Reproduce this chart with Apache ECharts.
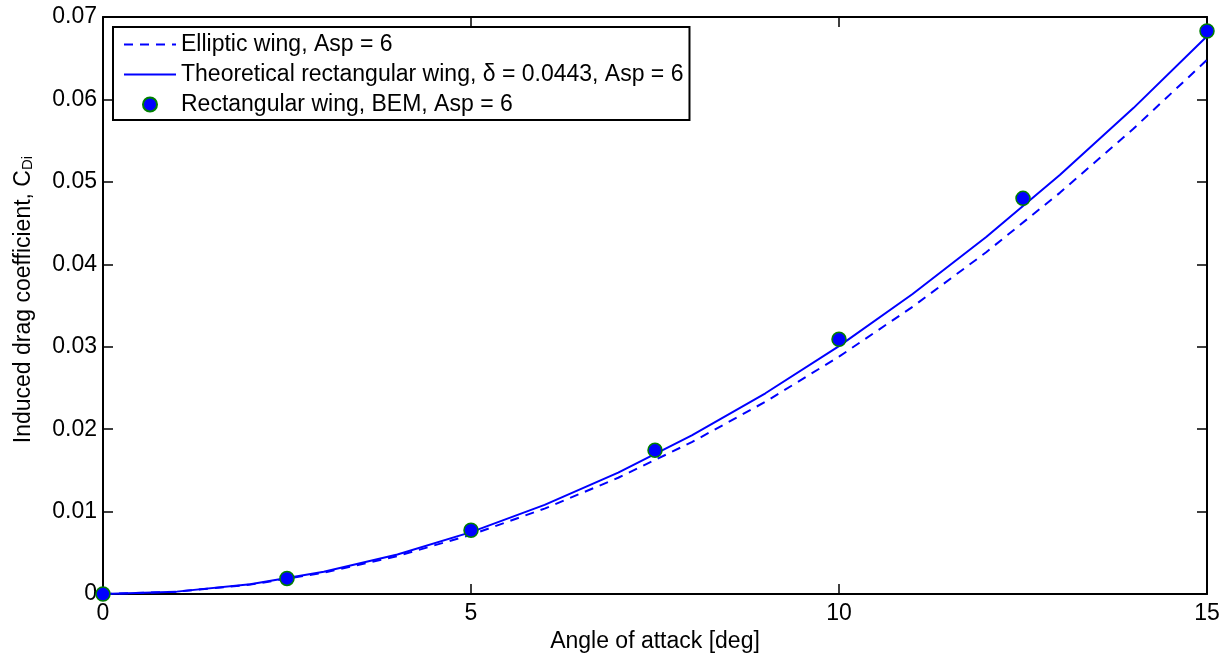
<!DOCTYPE html>
<html><head><meta charset="utf-8">
<script src="https://cdn.jsdelivr.net/npm/echarts@6/dist/echarts.min.js"></script>
<style>html,body{margin:0;padding:0;background:#fff}#c{width:1231px;height:658px}</style>
</head><body><div id="c"></div>
<script>
const alphaDeg = [0,1,2,3,4,5,6,7,8,9,10,11,12,13,14,15];
const ellipticCD = [0,0.00029,0.00115,0.00259,0.00461,0.0072,0.01037,0.01411,0.01843,0.02333,0.0288,0.03485,0.04147,0.04867,0.05645,0.0648];
const theoryCD = [0,0.0003,0.0012,0.0027,0.00481,0.00752,0.01083,0.01474,0.01925,0.02436,0.03008,0.0364,0.04331,0.05083,0.05895,0.06767];
const bemAlpha = [0,2.5,5,7.5,10,12.5,15];
const bemCD = [0,0.0019,0.00775,0.01744,0.0309,0.048,0.0683];
const xTicks = [0,5,10,15];
const yTicks = [0,0.01,0.02,0.03,0.04,0.05,0.06,0.07];
const seriesNames = ['Elliptic wing, Asp = 6','Theoretical rectangular wing, δ = 0.0443, Asp = 6','Rectangular wing, BEM, Asp = 6'];

const FONT = 'Liberation Sans, Arial, Helvetica, sans-serif';
const FS = 23;
const chart = echarts.init(document.getElementById('c'));
const axisCommon = {
  axisLine:{show:true, onZero:false, lineStyle:{color:'#000', width:2}},
  axisTick:{show:true, inside:true, length:10, lineStyle:{color:'#000', width:1.5}},
  splitLine:{show:false}
};
const hidden = {color:'rgba(0,0,0,0)', borderWidth:0, borderColor:'rgba(0,0,0,0)'};
chart.setOption({
  animation:false,
  backgroundColor:'#fff',
  grid:{left:103, right:24, top:17, bottom:63, containLabel:false},
  legend:{
    orient:'vertical', left:113, top:27,
    padding:[6,6,4,10], itemGap:7, itemWidth:52, itemHeight:14,
    borderColor:'#000', borderWidth:2, backgroundColor:'#fff',
    textStyle:{fontFamily:FONT, fontSize:FS, color:'#000'},
    data:[
      {name:seriesNames[0], itemStyle:hidden},
      {name:seriesNames[1], itemStyle:hidden},
      {name:seriesNames[2]}
    ]
  },
  xAxis:[
    Object.assign({type:'value', min:0, max:15, interval:5, position:'bottom',
      name:'Angle of attack [deg]', nameLocation:'middle', nameGap:33,
      nameTextStyle:{fontFamily:FONT, fontSize:FS, color:'#000'},
      axisLabel:{fontFamily:FONT, fontSize:FS, color:'#000', margin:8,
        formatter:v=> xTicks.includes(v)? String(v):''}}, axisCommon),
    Object.assign({type:'value', min:0, max:15, interval:5, position:'top',
      axisLabel:{show:false}}, axisCommon)
  ],
  yAxis:[
    Object.assign({type:'value', min:0, max:0.07, interval:0.01, position:'left',
      name:'Induced drag coefficient, C{sub|Di}', nameLocation:'middle', nameGap:68, nameRotate:90,
      nameTextStyle:{fontFamily:FONT, fontSize:FS, color:'#000', padding:[0,0,0,12],
        rich:{sub:{fontFamily:FONT, fontSize:15, color:'#000', verticalAlign:'bottom'}}},
      axisLabel:{fontFamily:FONT, fontSize:FS, color:'#000', margin:6,
        formatter:v=>{ const t = yTicks.find(k=>Math.abs(k-v)<1e-9); return t===undefined?'':(t===0?'0':t.toFixed(2)); }}}, axisCommon),
    Object.assign({type:'value', min:0, max:0.07, interval:0.01, position:'right',
      axisLabel:{show:false}}, axisCommon)
  ],
  series:[
    {name:seriesNames[0], type:'line', symbol:'none', data: alphaDeg.map((a,i)=>[a, ellipticCD[i]]),
      lineStyle:{color:'#0000ff', width:2, type:[9,7]}, itemStyle:{color:'#0000ff'}, z:2},
    {name:seriesNames[1], type:'line', symbol:'none', data: alphaDeg.map((a,i)=>[a, theoryCD[i]]),
      lineStyle:{color:'#0000ff', width:2, type:'solid'}, itemStyle:{color:'#0000ff'}, z:3},
    {name:seriesNames[2], type:'scatter', symbol:'circle', symbolSize:14, data: bemAlpha.map((a,i)=>[a, bemCD[i]]),
      itemStyle:{color:'#0000ff', borderColor:'#008000', borderWidth:1.5, opacity:1}, z:4}
  ]
});
</script></body></html>
